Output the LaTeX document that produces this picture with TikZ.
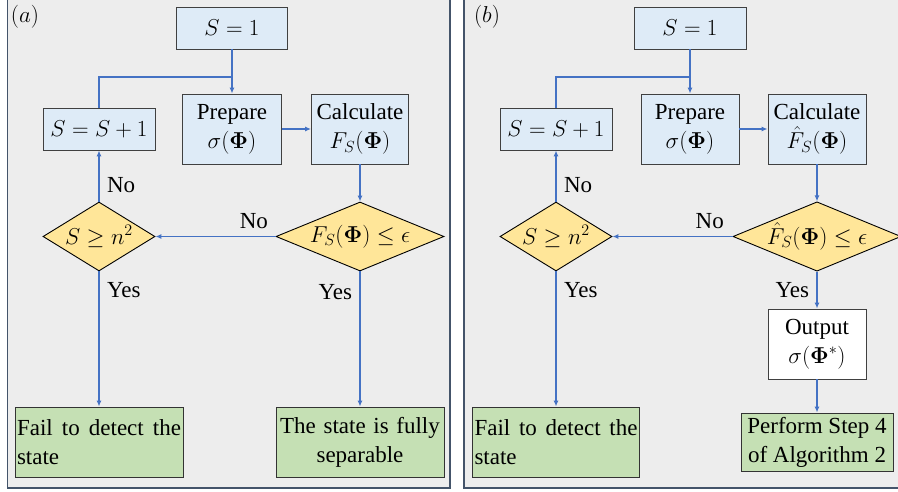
\RequirePackage{fix-cm}
\documentclass[tikz,border=0pt]{standalone}
\usepackage[no-math]{fontspec}
\setmainfont{Liberation Serif}
\usepackage{amsmath}
\usetikzlibrary{arrows.meta,shapes.geometric}
\definecolor{boxblue}{HTML}{DEEBF7}
\definecolor{boxyellow}{HTML}{FFE699}
\definecolor{boxgreen}{HTML}{C5E0B4}
\definecolor{linkblue}{HTML}{4472C4}
\definecolor{panelgray}{HTML}{EDEDED}
\definecolor{paneledge}{HTML}{44546A}
\tikzset{
  stepnode/.style = {align=center, inner sep=0pt, text centered},
  procbox/.style = {stepnode, rectangle, draw=black!75, fill=boxblue, line width=0.9pt},
  decbox/.style = {stepnode, diamond, draw=black, fill=boxyellow, line width=0.9pt},
  endbox/.style = {stepnode, rectangle, draw=black!80, fill=boxgreen, line width=0.9pt},
  outbox/.style = {stepnode, rectangle, draw=black!75, fill=white, line width=0.9pt},
  flow/.style = {draw=linkblue, line width=1.4pt, -{Latex[length=6pt,width=5pt]}},
  link/.style = {draw=linkblue, line width=1.4pt},
  panel/.style = {draw=paneledge, fill=panelgray, line width=1.5pt},
}

\begin{document}
\begin{tikzpicture}[x=1pt, y=1pt, font=\fontsize{23}{29}\selectfont]
  \useasboundingbox (0,0) rectangle (898,491);
  \draw [panel] (7.5,3) rectangle (450,495);
  \draw [panel] (464,3) rectangle (905,495);
  \node (taga) at (25,474) {$(a)$};
  \node (tagb) at (487,474) {$(b)$};

  % panel (a)
  \node [procbox, minimum width=111, minimum height=42] (s1a) at (232,463) {$S=1$};
  \node [procbox, minimum width=99, minimum height=70] (prepa) at (232,362) {Prepare\\$\sigma(\mathbf{\Phi})$};
  \node [procbox, minimum width=97, minimum height=70] (calca) at (360,362) {Calculate\\$F_S(\mathbf{\Phi})$};
  \node [procbox, minimum width=112, minimum height=42] (inca) at (99,362) {$S=S+1$};
  \node [decbox, minimum width=112, minimum height=69, shape aspect=1.6] (dna) at (99,254.5) {$S\geq n^2$};
  \node [decbox, minimum width=168, minimum height=69, shape aspect=2.4] (dfa) at (360,254.5) {$F_S(\mathbf{\Phi})\leq\epsilon$};
  \node [endbox, minimum width=168, minimum height=70, text width=164, inner xsep=2pt, align=justify] (faila) at (99,49) {Fail to detect the state};
  \node [endbox, minimum width=168, minimum height=70, text width=164, inner xsep=2pt] (sepa) at (360,49) {The state is fully\\separable};
  \coordinate (ja) at (232,414);

  \draw [flow] (s1a) -- (prepa);
  \draw [link] (inca.north) |- (ja);
  \draw [flow] (prepa) -- (calca);
  \draw [flow] (calca) -- (calca.south |- dfa.north);
  \draw [flow] (dfa.west) -- node [pos=0.18, above=4pt] {No} (dna.east);
  \draw [flow] (dna.north) -- node [pos=0.32, right=4pt] {No} (inca.south);
  \draw [flow] (dna.south) -- node [pos=0.14, right=4pt] {Yes} (faila.north);
  \draw [flow] (dfa.south) -- node [pos=0.15, left=4pt] {Yes} (sepa.north);

  % panel (b)
  \node [procbox, minimum width=112, minimum height=42] (s1b) at (690,463) {$S=1$};
  \node [procbox, minimum width=98, minimum height=70] (prepb) at (690,362) {Prepare\\$\sigma(\mathbf{\Phi})$};
  \node [procbox, minimum width=98, minimum height=70] (calcb) at (817,362) {Calculate\\$\hat{F}_S(\mathbf{\Phi})$};
  \node [procbox, minimum width=112, minimum height=42] (incb) at (556,362) {$S=S+1$};
  \node [decbox, minimum width=112, minimum height=69, shape aspect=1.6] (dnb) at (556,254.5) {$S\geq n^2$};
  \node [decbox, minimum width=168, minimum height=69, shape aspect=2.4] (dfb) at (817,254.5) {$\hat{F}_S(\mathbf{\Phi})\leq\epsilon$};
  \node [outbox, minimum width=98, minimum height=70] (outb) at (817,147) {Output\\$\sigma(\mathbf{\Phi}^*)$};
  \node [endbox, minimum width=167, minimum height=70, text width=163, inner xsep=2pt, align=justify] (failb) at (556,49) {Fail to detect the state};
  \node [endbox, minimum width=152, minimum height=58] (perfb) at (817,49) {Perform Step 4\\of Algorithm 2};
  \coordinate (jb) at (690,414);

  \draw [flow] (s1b) -- (prepb);
  \draw [link] (incb.north) |- (jb);
  \draw [flow] (prepb) -- (calcb);
  \draw [flow] (calcb) -- (dfb);
  \draw [flow] (dfb.west) -- node [pos=0.19, above=4pt] {No} (dnb.east);
  \draw [flow] (dnb.north) -- node [pos=0.32, right=4pt] {No} (incb.south);
  \draw [flow] (dnb.south) -- node [pos=0.14, right=4pt] {Yes} (failb.north);
  \draw [flow] (dfb.south) -- node [pos=0.5, left=4pt] {Yes} (outb.north);
  \draw [flow] (outb) -- (perfb);
\end{tikzpicture}
\end{document}
